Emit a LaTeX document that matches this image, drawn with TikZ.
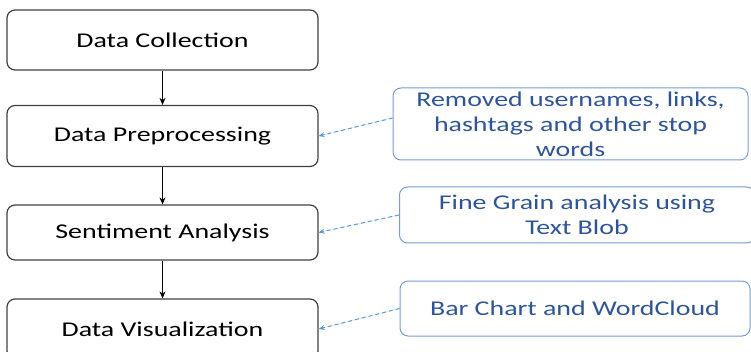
\documentclass[tikz,border=0pt]{standalone}
\usepackage{fontspec}
\setmainfont{Carlito}[FakeStretch=1.33]
\usetikzlibrary{arrows.meta}
\definecolor{notetext}{RGB}{47,85,151}
\definecolor{noteline}{RGB}{120,155,212}
\definecolor{hintblue}{RGB}{91,155,213}
\begin{document}
\begin{tikzpicture}
    [
        x=1pt, y=-1pt,
        stage/.style={rectangle, rounded corners=8pt, draw=black!75, line width=1.2pt, minimum width=311pt, font=\fontsize{21}{25}\selectfont},
        note/.style={rectangle, rounded corners=8pt, draw=noteline, line width=1pt, text=notetext, align=center, font=\fontsize{21}{25}\selectfont},
        flow/.style={-{Stealth[length=7pt, width=6pt]}, line width=1pt},
        hint/.style={-{Stealth[length=6pt, width=5pt]}, draw=hintblue, fill=hintblue, line width=1pt, dash pattern=on 4pt off 3pt},
    ]
    \useasboundingbox (0,0) rectangle (751,352);
    \node (collect) at (162.5,40) [stage, minimum height=60pt] {Data Collection};
    \node (prep) at (162.5,136) [stage, minimum height=61pt] {Data Preprocessing};
    \node (senti) at (162.5,232.5) [stage, minimum height=55pt] {Sentiment Analysis};
    \node (visual) at (162.5,329) [stage, minimum height=60pt] {Data Visualization};
    \node (remove) at (570.5,124) [note, minimum width=355pt, minimum height=72pt] {Removed usernames, links,\\hashtags and other stop\\words};
    \node (grain) at (577,215) [note, minimum width=355pt, minimum height=56pt] {Fine Grain analysis using\\Text Blob};
    \node (chart) at (575,308.5) [note, minimum width=350pt, minimum height=55pt] {Bar Chart and WordCloud};
    \draw [flow] (collect) -- (prep);
    \draw [flow] (prep) -- (senti);
    \draw [flow] (senti) -- (visual);
    \draw [hint] ([yshift=6pt]remove.west) -- (prep.east);
    \draw [hint] (grain.west) -- (senti.east);
    \draw [hint] (chart.west) -- (visual.east);
\end{tikzpicture}
\end{document}
